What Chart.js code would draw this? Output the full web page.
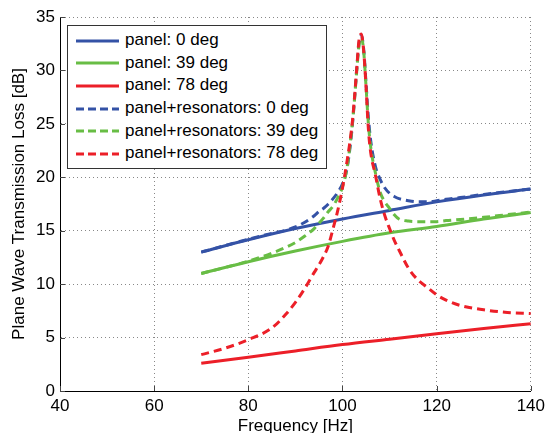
<!DOCTYPE html>
<html lang="en">
<head>
    <meta charset="UTF-8">
    <title>Plane Wave Transmission Loss</title>
    <style>
        body {
            margin: 0;
            background: #fff;
            font-family: "Liberation Sans", Arial, sans-serif;
        }
        #wrap {
            position: relative;
            width: 550px;
            height: 433px;
        }
        #legend {
            position: absolute;
            left: 67px;
            top: 25px;
            width: 258px;
            height: 139px;
            border: 1px solid #333;
            background: #fff;
            padding-top: 3px;
            box-sizing: content-box;
        }
        .row {
            height: 22.7px;
            line-height: 22.7px;
            font-size: 17px;
            color: #000;
            white-space: nowrap;
        }
        .row svg {
            vertical-align: middle;
            margin-left: 8px;
            margin-right: 6px;
        }
    </style>
</head>
<body>
<div id="wrap">
    <canvas id="tlChart" width="550" height="433"></canvas>
    <div id="legend"></div>
</div>

<script src="https://cdn.jsdelivr.net/npm/chart.js@4"></script>
<script>
    // panel alone
    const freqPanel = [70, 80, 90, 100, 110, 120, 130, 140];
    const panel0  = [13.0, 14.15, 15.2, 16.1, 16.9, 17.7, 18.35, 18.9];
    const panel39 = [11.0, 12.1, 13.1, 14.0, 14.8, 15.4, 16.1, 16.7];
    const panel78 = [2.6, 3.15, 3.75, 4.35, 4.85, 5.35, 5.85, 6.3];

    // panel + resonators
    const freqRes = [70, 75, 80, 85, 88, 90, 92, 94, 95, 96, 97, 98, 99, 100, 101, 102, 102.5, 103, 103.5, 104,
                     104.5, 105, 105.5, 106, 107, 108, 109, 110, 111, 112, 114, 116, 118, 120, 122, 125, 130, 135, 140];
    const res0  = [13.0, 13.6, 14.2, 14.75, 15.05, 15.35, 15.8, 16.4, 16.8, 17.1, 17.5, 18.0, 18.6, 19.4, 20.9, 24.4, 27.0, 30.0, 32.5, 33.3,
                   32.0, 28.8, 25.6, 23.4, 21.0, 19.8, 19.0, 18.5, 18.2, 18.0, 17.8, 17.7, 17.7, 17.8, 17.95, 18.1, 18.4, 18.65, 18.9];
    const res39 = [11.0, 11.55, 12.15, 12.9, 13.45, 13.9, 14.5, 15.2, 15.7, 16.2, 16.8, 17.3, 18.1, 19.1, 21.0, 24.6, 27.0, 29.8, 32.3, 33.1,
                   31.8, 28.5, 25.0, 22.8, 20.4, 18.6, 17.7, 17.1, 16.5, 16.1, 15.9, 15.85, 15.85, 15.85, 15.95, 16.05, 16.25, 16.5, 16.75];
    const res78 = [3.4, 4.0, 4.8, 5.9, 7.2, 8.3, 9.6, 11.1, 11.8, 12.6, 13.6, 15.2, 16.9, 19.0, 21.6, 24.8, 27.2, 30.0, 32.8, 33.4,
                   31.8, 28.5, 24.5, 22.3, 20.2, 18.0, 16.4, 15.2, 14.1, 13.2, 11.5, 10.4, 9.7, 9.0, 8.5, 8.0, 7.6, 7.35, 7.25];

    const labels = ['panel: 0 deg', 'panel: 39 deg', 'panel: 78 deg',
                    'panel+resonators: 0 deg', 'panel+resonators: 39 deg', 'panel+resonators: 78 deg'];
    const xTicks = [40, 60, 80, 100, 120, 140];
    const yTicks = [0, 5, 10, 15, 20, 25, 30, 35];

    const blue = '#3452a6';
    const green = '#68bd45';
    const red = '#ec1f28';

    function pts(xs, ys) {
        return xs.map((x, i) => ({ x: x, y: ys[i] }));
    }

    const series = [
        { data: pts(freqPanel, panel0),  color: blue,  dash: [] },
        { data: pts(freqPanel, panel39), color: green, dash: [] },
        { data: pts(freqPanel, panel78), color: red,   dash: [] },
        { data: pts(freqRes, res0),      color: blue,  dash: [8, 5] },
        { data: pts(freqRes, res39),     color: green, dash: [8, 5] },
        { data: pts(freqRes, res78),     color: red,   dash: [8, 5] }
    ];

    const datasets = series.map((s, i) => ({
        label: labels[i],
        data: s.data,
        borderColor: s.color,
        backgroundColor: s.color,
        borderWidth: 3,
        borderDash: s.dash,
        pointRadius: 0,
        cubicInterpolationMode: 'monotone',
        fill: false,
        order: 6 - i
    }));

    // small inward tick marks, matlab style
    const innerTicks = {
        id: 'innerTicks',
        afterDraw(chart) {
            const { ctx, chartArea, scales } = chart;
            ctx.save();
            ctx.strokeStyle = '#444';
            ctx.lineWidth = 1;
            ctx.beginPath();
            xTicks.forEach(v => {
                const px = Math.round(scales.x.getPixelForValue(v)) + 0.5;
                ctx.moveTo(px, chartArea.bottom);
                ctx.lineTo(px, chartArea.bottom - 5);
            });
            yTicks.forEach(v => {
                const py = Math.round(scales.y.getPixelForValue(v)) + 0.5;
                ctx.moveTo(chartArea.left, py);
                ctx.lineTo(chartArea.left + 5, py);
            });
            ctx.stroke();
            ctx.restore();
        }
    };

    const font = { family: '"Liberation Sans", Arial, sans-serif', size: 17 };

    const ctx = document.getElementById('tlChart').getContext('2d');
    const tlChart = new Chart(ctx, {
        type: 'line',
        data: { datasets: datasets },
        plugins: [innerTicks],
        options: {
            responsive: false,
            animation: false,
            layout: { padding: { left: 0, right: 17, top: 17, bottom: 0 } },
            plugins: {
                legend: { display: false },
                tooltip: { enabled: false }
            },
            scales: {
                x: {
                    type: 'linear',
                    min: 40,
                    max: 140,
                    afterBuildTicks: (scale) => { scale.ticks = xTicks.map(v => ({ value: v })); },
                    afterFit: (scale) => { scale.height = 42; },
                    ticks: { color: '#000', font: font, padding: 5, maxRotation: 0 },
                    grid: { color: '#888', lineWidth: 1, drawTicks: false },
                    border: { display: true, color: '#000', width: 1, dash: [1, 3] },
                    title: {
                        display: true,
                        text: 'Frequency [Hz]',
                        color: '#000',
                        font: { family: font.family, size: 17, lineHeight: 0.8 },
                        padding: { top: 0, bottom: 0 }
                    }
                },
                y: {
                    type: 'linear',
                    min: 0,
                    max: 35,
                    afterBuildTicks: (scale) => { scale.ticks = yTicks.map(v => ({ value: v })); },
                    afterFit: (scale) => { scale.width = 60; },
                    ticks: { color: '#000', font: font, padding: 5 },
                    grid: { color: '#888', lineWidth: 1, drawTicks: false },
                    border: { display: true, color: '#000', width: 1, dash: [1, 3] },
                    title: {
                        display: true,
                        text: 'Plane Wave Transmission Loss [dB]',
                        color: '#000',
                        font: { family: font.family, size: 17, lineHeight: 1.2 },
                        padding: { top: 9, bottom: 0 }
                    }
                }
            }
        }
    });

    // html legend inside the plot box
    const legendDiv = document.getElementById('legend');
    series.forEach((s, i) => {
        const dash = s.dash.length ? 'stroke-dasharray="8,4"' : '';
        legendDiv.innerHTML += `<div class="row"><svg width="43" height="4"><line x1="0" y1="2" x2="43" y2="2" stroke="${s.color}" stroke-width="3" ${dash}/></svg>${labels[i]}</div>`;
    });
</script>
</body>
</html>
